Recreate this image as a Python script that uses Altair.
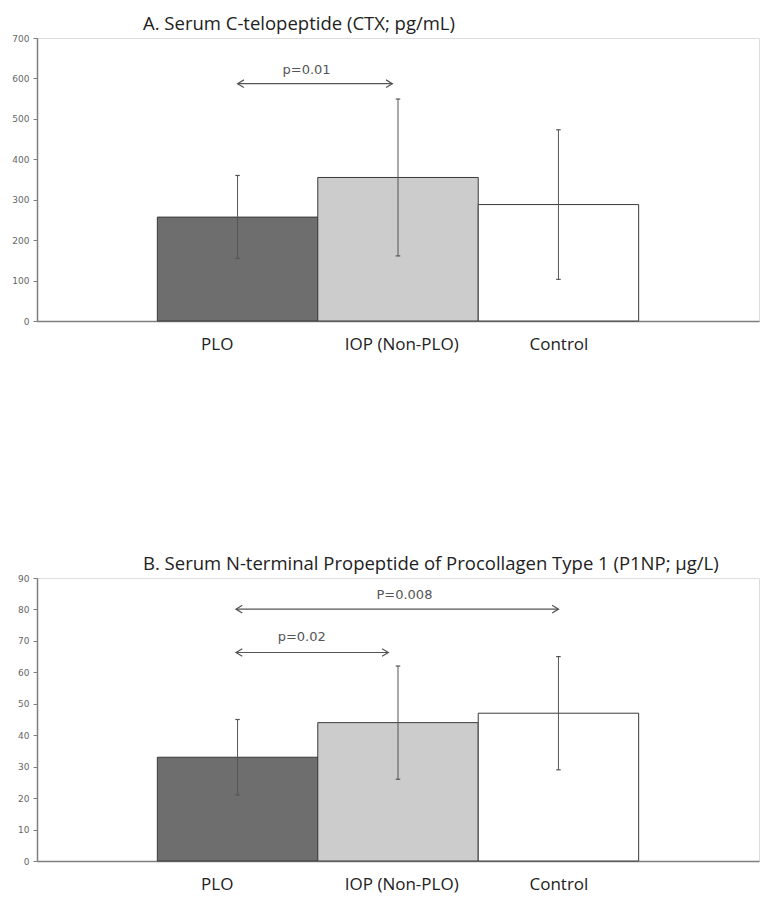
import altair as alt
import pandas as pd

# ---- data ----
groups = ["PLO", "IOP (Non-PLO)", "Control"]
positions = [1, 2, 3]
label_positions = [0.87, 2.02, 3.0]
fills = ["#6e6e6e", "#cccccc", "#ffffff"]

ctx_mean = [257, 355, 288]
ctx_low = [155, 161, 103]
ctx_high = [360, 549, 473]
ctx_ticks = [0, 100, 200, 300, 400, 500, 600, 700]

p1np_mean = [33, 44, 47]
p1np_low = [21, 26, 29]
p1np_high = [45, 62, 65]
p1np_ticks = [0, 10, 20, 30, 40, 50, 60, 70, 80, 90]

ctx_cmp_start = [1.0]
ctx_cmp_end = [1.965]
ctx_cmp_y = [587]
ctx_cmp_label = ["p=0.01"]
ctx_cmp_label_x = [1.43]
ctx_cmp_label_y = [620]

p1np_cmp_start = [0.99, 0.99]
p1np_cmp_end = [1.94, 3.0]
p1np_cmp_y = [66.3, 80.1]
p1np_cmp_label = ["p=0.02", "P=0.008"]
p1np_cmp_label_x = [1.40, 2.04]
p1np_cmp_label_y = [71.2, 84.6]

W, H = 722, 283
AX = "#7f7f7f"
INK = "#555555"


def panel(title, mean, low, high, ticks, c0, c1, cy, clab, clx, cly, extent):
    bars_df = pd.DataFrame({"group": groups, "pos": positions, "mean": mean,
                            "low": low, "high": high, "fill": fills})
    cmp_df = pd.DataFrame({"x0": c0, "x1": c1, "y": cy, "label": clab,
                           "lx": clx, "ly": cly})
    ymax = ticks[-1]
    xscale = alt.Scale(domain=[-0.25, 4.25], nice=False, zero=False)
    yscale = alt.Scale(domain=[0, ymax], nice=False)
    label_expr = " : ".join(
        f"datum.value == {p} ? '{g}'" for p, g in zip(label_positions[:-1], groups[:-1])
    ) + f" : '{groups[-1]}'"

    xaxis = alt.Axis(values=label_positions, labelExpr=label_expr, title=None, ticks=False,
                     grid=False, labelFont="Open Sans", labelFontSize=17,
                     labelColor="#222222", labelPadding=15, domainColor=AX,
                     domainWidth=1.5, labelOverlap=False)
    yaxis = alt.Axis(values=ticks, tickCount=len(ticks), title=None, grid=False,
                     tickSize=4, tickColor=AX, labelPadding=4, labelFont="DejaVu Sans",
                     labelFontSize=9, labelColor="#666666", domainColor=AX,
                     domainWidth=1.5, minExtent=extent, maxExtent=extent,
                     labelOverlap=False, labelFlush=False)

    def X(f):
        return alt.X(f, scale=xscale, axis=xaxis)

    def Y(f):
        return alt.Y(f, scale=yscale, axis=yaxis)

    base = alt.Chart(bars_df)
    bars = base.transform_calculate(
        bx0="datum.pos - 0.5", bx1="datum.pos + 0.5"
    ).mark_bar(stroke="#3a3a3a", strokeWidth=1).encode(
        x=X("bx0:Q"), x2="bx1:Q",
        y=Y("mean:Q"), y2=alt.datum(0),
        fill=alt.Fill("fill:N", scale=None),
    )
    err = base.mark_rule(color=INK, strokeWidth=1).encode(
        x=X("pos:Q"), y=Y("low:Q"), y2="high:Q")
    caps_hi = base.transform_calculate(
        cx0="datum.pos - 0.014", cx1="datum.pos + 0.014"
    ).mark_rule(color=INK, strokeWidth=1.2).encode(
        x=X("cx0:Q"), x2="cx1:Q", y=Y("high:Q"))
    caps_lo = base.transform_calculate(
        cx0="datum.pos - 0.014", cx1="datum.pos + 0.014"
    ).mark_rule(color=INK, strokeWidth=1.2).encode(
        x=X("cx0:Q"), x2="cx1:Q", y=Y("low:Q"))

    cbase = alt.Chart(cmp_df)
    arrow = cbase.mark_rule(color=INK, strokeWidth=1.2).encode(
        x=X("x0:Q"), x2="x1:Q", y=Y("y:Q"))
    head_l = cbase.mark_point(shape="M1,-0.6L0,0L1,0.6", filled=False, size=160,
                              stroke=INK, strokeWidth=1.2, opacity=1).encode(
        x=X("x0:Q"), y=Y("y:Q"))
    head_r = cbase.mark_point(shape="M-1,-0.6L0,0L-1,0.6", filled=False, size=160,
                              stroke=INK, strokeWidth=1.2, opacity=1).encode(
        x=X("x1:Q"), y=Y("y:Q"))
    txt = cbase.mark_text(font="DejaVu Sans", fontSize=13, color=INK,
                          baseline="middle").encode(
        x=X("lx:Q"), y=Y("ly:Q"), text="label:N")

    return alt.layer(bars, err, caps_hi, caps_lo, arrow, head_l, head_r, txt).properties(
        width=W, height=H,
        title=alt.TitleParams(title, anchor="start", frame="group", dx=106, fontSize=18.5,
                              font="Open Sans", fontWeight="normal", color="#222222",
                              offset=1),
    )


top = panel("A. Serum C-telopeptide (CTX; pg/mL)", ctx_mean, ctx_low, ctx_high, ctx_ticks,
            ctx_cmp_start, ctx_cmp_end, ctx_cmp_y, ctx_cmp_label, ctx_cmp_label_x,
            ctx_cmp_label_y, 28)
bottom = panel("B. Serum N-terminal Propeptide of Procollagen Type 1 (P1NP; µg/L)",
               p1np_mean, p1np_low, p1np_high, p1np_ticks,
               p1np_cmp_start, p1np_cmp_end, p1np_cmp_y, p1np_cmp_label,
               p1np_cmp_label_x, p1np_cmp_label_y, 28)

chart = alt.vconcat(top, bottom, spacing=201).properties(
    padding={"top": 6, "left": 0, "right": 0, "bottom": 0}
).configure_view(
    stroke="#999999", strokeWidth=1
).configure(background="white")

chart.save("out.html", embed_options={"renderer": "svg", "actions": False})
